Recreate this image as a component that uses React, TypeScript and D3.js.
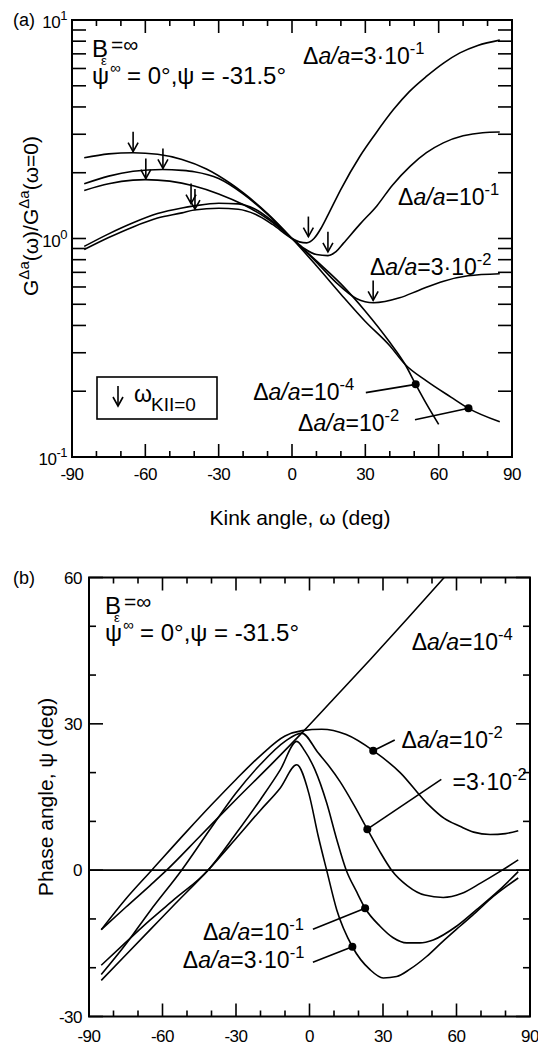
import React from "react";
import * as d3 from "d3";

const W = 538;
const H = 1044;
const FONT = "'Liberation Sans', Arial, Helvetica, sans-serif";

type Pt = [number, number];

// ---- panel (a): G(w)/G(w=0) vs kink angle, one series per crack extension
const gRatio1e4: Pt[] = [
  [-85, 1.66], [-75, 1.78], [-65, 1.85], [-60, 1.86], [-50, 1.83], [-40, 1.74],
  [-30, 1.6], [-20, 1.43], [-10, 1.23], [0, 1.0], [10, 0.79], [20, 0.62],
  [30, 0.465], [40, 0.335], [46.3, 0.265], [50.6, 0.215], [55, 0.175], [60, 0.141],
];
const gRatio1e2: Pt[] = [
  [-85, 2.34], [-75, 2.44], [-65, 2.47], [-55, 2.43], [-45, 2.3], [-35, 2.08],
  [-25, 1.78], [-20, 1.62], [-10, 1.3], [0, 1.0], [10, 0.75], [20, 0.556],
  [30, 0.417], [40, 0.323], [46.3, 0.265], [55, 0.223], [65, 0.188],
  [72.2, 0.167], [85, 0.145],
];
const gRatio3e2: Pt[] = [
  [-85, 1.78], [-75, 1.93], [-65, 2.03], [-53, 2.07], [-45, 2.05], [-40, 2.02],
  [-30, 1.88], [-20, 1.6], [-10, 1.29], [0, 1.0], [10, 0.78], [18, 0.63],
  [26.5, 0.53], [33.3, 0.508], [44, 0.535], [52, 0.58], [62, 0.638],
  [72, 0.675], [85, 0.69],
];
const gRatio1e1: Pt[] = [
  [-85, 0.92], [-75, 1.05], [-65, 1.18], [-55, 1.3], [-45, 1.38], [-40, 1.41],
  [-30, 1.45], [-22, 1.44], [-15, 1.36], [-8, 1.2], [0, 1.0], [5, 0.9],
  [10, 0.845], [14.7, 0.835], [18, 0.87], [21, 0.95], [28, 1.17], [34.7, 1.41],
  [41, 1.75], [48.3, 2.14], [55, 2.47], [61.9, 2.74], [70, 2.95], [78, 3.05],
  [85, 3.07],
];
const gRatio3e1: Pt[] = [
  [-85, 0.89], [-75, 1.01], [-65, 1.13], [-55, 1.24], [-45, 1.31], [-40, 1.35],
  [-30, 1.375], [-22, 1.36], [-15, 1.29], [-8, 1.16], [0, 1.0], [3, 0.965],
  [6, 0.955], [9, 1.0], [12, 1.12], [15, 1.3], [20, 1.68], [27.8, 2.38],
  [34, 3.0], [41.5, 3.89], [48, 4.7], [55.1, 5.53], [62, 6.35], [68.7, 7.07],
  [76, 7.65], [85, 8.09],
];
// arrows marking K_II = 0 (omega, ratio at tip)
const kiiZeroA: Pt[] = [
  [-65, 2.47], [-52.8, 2.07], [-59.8, 1.86], [-41.3, 1.43], [-39.7, 1.35],
  [6.7, 1.01], [14.7, 0.86], [33.2, 0.515],
];
const dotsA: Pt[] = [[50.6, 0.215], [72.2, 0.167]];
const leadersA: [Pt, Pt][] = [
  [[30.2, 0.197], [50.6, 0.215]],
  [[50.3, 0.148], [72.2, 0.167]],
];
// label text anchors (omega, ratio) with mantissa / exponent
const labelsA = [
  { w: 4.5, v: 6.26, mant: "3·10", exp: "-1" },
  { w: 43.4, v: 1.43, mant: "10", exp: "-1" },
  { w: 31.9, v: 0.684, mant: "3·10", exp: "-2" },
  { w: -15.9, v: 0.183, mant: "10", exp: "-4" },
  { w: 2.5, v: 0.131, mant: "10", exp: "-2" },
];

// ---- panel (b): phase angle vs kink angle
const psi1e4: Pt[] = [
  [-85, -12.2], [-75, -7.6], [-65, -3.1], [-58.3, 0], [-45, 6.8], [-30, 14.5],
  [-15, 22.0], [-3.2, 28.1], [10, 35.2], [25, 43.3], [40, 51.6], [55, 60],
];
const psi1e2: Pt[] = [
  [-85, -12.2], [-75, -5.9], [-64.4, 0], [-50, 8.0], [-40, 13.4], [-30, 18.6],
  [-20, 23.5], [-10, 27.5], [-3, 28.6], [5, 28.9], [15, 27.8], [26, 24.5],
  [37, 20.0], [47.8, 13.8], [55, 10.6], [61.4, 9.0], [67, 7.8], [73.7, 7.3],
  [80, 7.5], [85.2, 8.1],
];
const psi3e2: Pt[] = [
  [-85, -21.4], [-75, -15.2], [-65, -8.3], [-52.2, 0], [-40, 8.8], [-30, 15.8],
  [-20, 21.7], [-10, 26.4], [-3.2, 28.1], [3.6, 24.0], [8, 21.3], [12.4, 18.2],
  [18, 13.5], [23.6, 8.4], [28.5, 4.0], [33.5, 0], [40, -3.2], [47, -5.1],
  [54.6, -5.6], [62, -4.8], [70, -2.6], [78, -0.2], [85.2, 2.1],
];
const psi1e1: Pt[] = [
  [-85, -19.5], [-75, -14.8], [-65, -10.2], [-55, -5.9], [-41.4, 0], [-30, 7.5],
  [-20, 14.5], [-12, 20.5], [-5.2, 26.4], [-2, 24.5], [2.2, 20.6], [7, 13.8],
  [11, 6.5], [15, 0], [19, -4.2], [22.7, -7.8], [28.8, -11.5], [34, -13.8],
  [39.7, -14.9], [45, -14.9], [50.5, -14.3], [60, -11.5], [68.2, -8.1],
  [77, -4.3], [85.2, -0.3],
];
const psi3e1: Pt[] = [
  [-85, -22.6], [-75, -17.4], [-65, -12.2], [-55, -7.0], [-41.4, 0], [-30, 6.5],
  [-20, 12.3], [-12, 16.8], [-5.2, 21.6], [-0.3, 15.8], [3.6, 6.9], [7, 0],
  [11.1, -8.1], [17.5, -15.7], [24.7, -20.4], [30.1, -22.1], [35.6, -21.8],
  [41, -20.3], [47.8, -17.7], [54, -14.8], [61.4, -11.5], [68, -8.6],
  [75, -5.4], [85.2, -1.6],
];
const dotsB: Pt[] = [[26, 24.5], [23.6, 8.4], [22.7, -7.8], [17.5, -15.7]];
const leadersB: [Pt, Pt][] = [
  [[34.8, 26.7], [26, 24.5]],
  [[53.8, 18.6], [23.6, 8.4]],
  [[1.4, -12.1], [22.7, -7.8]],
  [[1.4, -18.9], [17.5, -15.7]],
];
const labelsB = [
  { w: 41.7, v: 45.2, mant: "10", exp: "-4", prefix: true },
  { w: 37.6, v: 25.1, mant: "10", exp: "-2", prefix: true },
  { w: 58.4, v: 16.4, mant: "3·10", exp: "-2", prefix: false },
  { w: -43.5, v: -14.3, mant: "10", exp: "-1", prefix: true },
  { w: -51.7, v: -20.0, mant: "3·10", exp: "-1", prefix: true },
];

const xTickValues = d3.range(-90, 91, 10);
const psiTickValues = d3.range(-30, 61, 10);

const DaLabel = ({ x, y, mant, exp, prefix = true, size = 23 }: any) => (
  <text x={x} y={y} fontSize={size} fontFamily={FONT}>
    {prefix && <tspan>Δ</tspan>}
    {prefix && <tspan fontStyle="italic">a/a</tspan>}
    <tspan>={mant}</tspan>
    <tspan dy={-10} fontSize={size * 0.72}>{exp}</tspan>
  </text>
);

const Arrow = ({ x, tip }: { x: number; tip: number }) => (
  <g stroke="#000" strokeWidth={1.6} fill="none">
    <line x1={x} x2={x} y1={tip - 20} y2={tip} />
    <polyline points={`${x - 5},${tip - 9} ${x},${tip} ${x + 5},${tip - 9}`} />
  </g>
);

// B_eps=inf and psi^inf = 0°, psi = -31.5° block, (x, y) = baseline of "B"
const Params = ({ x, y }: { x: number; y: number }) => (
  <g fontFamily={FONT}>
    <text x={x} y={y} fontSize={24}>B</text>
    <text x={x + 9} y={y + 8} fontSize={13}>ε</text>
    <text x={x + 19} y={y - 5} fontSize={21}>=∞</text>
    <text x={x} y={y + 27} fontSize={24}>ψ</text>
    <text x={x + 18} y={y + 16} fontSize={15}>∞</text>
    <text x={x + 35} y={y + 27} fontSize={24}>= 0°,ψ = -31.5°</text>
  </g>
);

function Frame({ x, y, left, right, top, bottom, yTicks, yMajor }: any) {
  return (
    <g stroke="#000" strokeWidth={1.6}>
      {xTickValues.map((t) => {
        const len = t % 30 === 0 ? 13 : 6;
        return (
          <g key={"x" + t}>
            <line x1={x(t)} x2={x(t)} y1={bottom} y2={bottom - len} />
            <line x1={x(t)} x2={x(t)} y1={top} y2={top + len} />
          </g>
        );
      })}
      {yTicks.map((t: number, i: number) => {
        const len = yMajor(t) ? 14 : 7;
        return (
          <g key={"y" + i}>
            <line x1={left} x2={left + len} y1={y(t)} y2={y(t)} />
            <line x1={right} x2={right - len} y1={y(t)} y2={y(t)} />
          </g>
        );
      })}
      <rect x={left} y={top} width={right - left} height={bottom - top} fill="none" strokeWidth={2} />
    </g>
  );
}

function PanelA() {
  const left = 72, right = 512, top = 20, bottom = 457;
  const x = d3.scaleLinear().domain([-90, 90]).range([left, right]);
  const y = d3.scaleLog().domain([0.1, 10]).range([bottom, top]);
  const line = d3
    .line<Pt>()
    .x((d) => x(d[0]))
    .y((d) => y(d[1]))
    .curve(d3.curveMonotoneX);
  const series = [gRatio1e4, gRatio1e2, gRatio3e2, gRatio1e1, gRatio3e1];
  const decades = [0.1, 1, 10];

  return (
    <g>
      <defs>
        <clipPath id="clipA">
          <rect x={left} y={top} width={right - left} height={bottom - top} />
        </clipPath>
      </defs>
      <g clipPath="url(#clipA)">
        {series.map((s, i) => (
          <path key={i} d={line(s) || ""} fill="none" stroke="#000" strokeWidth={1.6} />
        ))}
      </g>
      <Frame x={x} y={y} left={left} right={right} top={top} bottom={bottom}
        yTicks={y.ticks()} yMajor={() => true} />

      {kiiZeroA.map((d, i) => (
        <Arrow key={i} x={x(d[0])} tip={y(d[1]) - 1} />
      ))}
      {leadersA.map((l, i) => (
        <line key={i} x1={x(l[0][0])} y1={y(l[0][1])} x2={x(l[1][0])} y2={y(l[1][1])}
          stroke="#000" strokeWidth={1.6} />
      ))}
      {dotsA.map((d, i) => (
        <circle key={i} cx={x(d[0])} cy={y(d[1])} r={4} fill="#000" />
      ))}
      {labelsA.map((l, i) => (
        <DaLabel key={i} x={x(l.w)} y={y(l.v)} mant={l.mant} exp={l.exp} />
      ))}

      {/* tick labels */}
      <g fontFamily={FONT} fontSize={17} letterSpacing={-0.5}>
        {xTickValues.filter((t) => t % 30 === 0).map((t) => (
          <text key={t} x={x(t)} y={bottom + 23} textAnchor="middle">{t}</text>
        ))}
        {decades.map((d) => (
          <text key={d} x={left - 5} y={y(d) + 8} textAnchor="end">
            10<tspan dy={-8} fontSize={13}>{Math.round(Math.log10(d))}</tspan>
          </text>
        ))}
      </g>
      <text x={13} y={26} fontFamily={FONT} fontSize={18}>(a)</text>

      <Params x={left + 20} y={top + 37} />

      {/* legend */}
      <rect x={97} y={377} width={120} height={42} fill="none" stroke="#000" strokeWidth={1.6} />
      <Arrow x={118} tip={406} />
      <text x={134} y={402} fontFamily={FONT} fontSize={23}>ω</text>
      <text x={151} y={411} fontFamily={FONT} fontSize={19}>KII=0</text>

      {/* axis titles */}
      <text x={300} y={525} textAnchor="middle" fontFamily={FONT} fontSize={21}>
        Kink angle, ω (deg)
      </text>
      <text transform="translate(38,216) rotate(-90)" textAnchor="middle" fontFamily={FONT} fontSize={21}>
        G<tspan dy={-9} fontSize={15}>Δa</tspan>
        <tspan dy={9}>(ω)/G</tspan>
        <tspan dy={-9} fontSize={15}>Δa</tspan>
        <tspan dy={9}>(ω=0)</tspan>
      </text>
    </g>
  );
}

function PanelB() {
  const left = 89, right = 530, top = 577.5, bottom = 1016.5;
  const x = d3.scaleLinear().domain([-90, 90]).range([left, right]);
  const y = d3.scaleLinear().domain([-30, 60]).range([bottom, top]);
  const line = d3
    .line<Pt>()
    .x((d) => x(d[0]))
    .y((d) => y(d[1]))
    .curve(d3.curveMonotoneX);
  const series = [psi1e4, psi1e2, psi3e2, psi1e1, psi3e1];

  return (
    <g>
      <defs>
        <clipPath id="clipB">
          <rect x={left} y={top} width={right - left} height={bottom - top} />
        </clipPath>
      </defs>
      <line x1={left} x2={right} y1={y(0)} y2={y(0)} stroke="#000" strokeWidth={1.6} />
      <g clipPath="url(#clipB)">
        {series.map((s, i) => (
          <path key={i} d={line(s) || ""} fill="none" stroke="#000" strokeWidth={1.6} />
        ))}
      </g>
      <Frame x={x} y={y} left={left} right={right} top={top} bottom={bottom}
        yTicks={psiTickValues} yMajor={(t: number) => t % 30 === 0} />

      {leadersB.map((l, i) => (
        <line key={i} x1={x(l[0][0])} y1={y(l[0][1])} x2={x(l[1][0])} y2={y(l[1][1])}
          stroke="#000" strokeWidth={1.6} />
      ))}
      {dotsB.map((d, i) => (
        <circle key={i} cx={x(d[0])} cy={y(d[1])} r={4} fill="#000" />
      ))}
      {labelsB.map((l, i) => (
        <DaLabel key={i} x={x(l.w)} y={y(l.v)} mant={l.mant} exp={l.exp} prefix={l.prefix} />
      ))}

      <g fontFamily={FONT} fontSize={17} letterSpacing={-0.5}>
        {xTickValues.filter((t) => t % 30 === 0).map((t) => (
          <text key={t} x={x(t)} y={bottom + 25} textAnchor="middle">{t}</text>
        ))}
        {psiTickValues.filter((t) => t % 30 === 0).map((t) => (
          <text key={t} x={left - 7} y={y(t) + 6} textAnchor="end">{t}</text>
        ))}
      </g>
      <text x={13} y={584} fontFamily={FONT} fontSize={18}>(b)</text>

      <Params x={left + 16} y={top + 36} />

      <text transform={`translate(53,${(top + bottom) / 2}) rotate(-90)`} textAnchor="middle"
        fontFamily={FONT} fontSize={21}>
        Phase angle, ψ (deg)
      </text>
    </g>
  );
}

export default function App() {
  return (
    <svg width={W} height={H} viewBox={`0 0 ${W} ${H}`}
      style={{ position: "absolute", left: 0, top: 0, background: "#fff" }}>
      <rect width={W} height={H} fill="#fff" />
      <PanelA />
      <PanelB />
    </svg>
  );
}
